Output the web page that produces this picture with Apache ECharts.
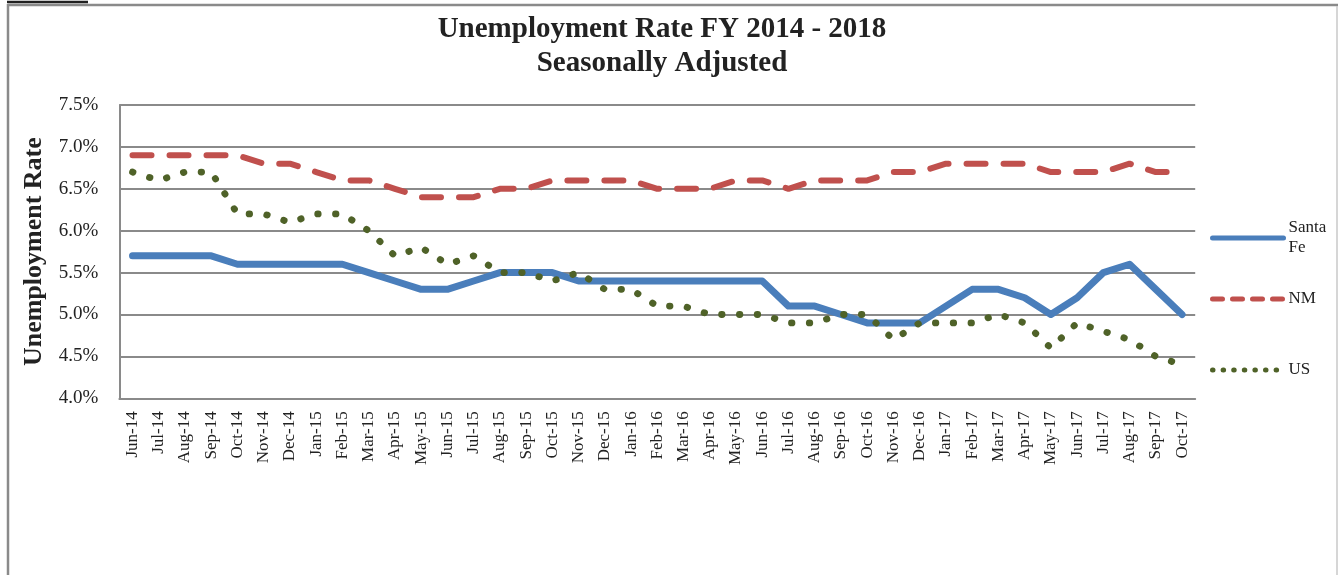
<!DOCTYPE html>
<html>
<head>
<meta charset="utf-8">
<script src="https://cdn.jsdelivr.net/npm/echarts@6/dist/echarts.min.js"></script>
<style>
  html, body { margin: 0; padding: 0; background: #ffffff; }
  #chart { width: 1338px; height: 575px; }
</style>
</head>
<body>
<div id="chart"></div>
<script>
// Monthly unemployment rates (%), Jun-14 .. Oct-17
const months = [
  'Jun-14','Jul-14','Aug-14','Sep-14','Oct-14','Nov-14','Dec-14',
  'Jan-15','Feb-15','Mar-15','Apr-15','May-15','Jun-15','Jul-15','Aug-15','Sep-15','Oct-15','Nov-15','Dec-15',
  'Jan-16','Feb-16','Mar-16','Apr-16','May-16','Jun-16','Jul-16','Aug-16','Sep-16','Oct-16','Nov-16','Dec-16',
  'Jan-17','Feb-17','Mar-17','Apr-17','May-17','Jun-17','Jul-17','Aug-17','Sep-17','Oct-17'
];
const santaFe = [
  5.7,5.7,5.7,5.7,5.6,5.6,5.6,
  5.6,5.6,5.5,5.4,5.3,5.3,5.4,5.5,5.5,5.5,5.4,5.4,
  5.4,5.4,5.4,5.4,5.4,5.4,5.1,5.1,5.0,4.9,4.9,4.9,
  5.1,5.3,5.3,5.2,5.0,5.2,5.5,5.6,5.3,5.0
];
const newMexico = [
  6.9,6.9,6.9,6.9,6.9,6.8,6.8,
  6.7,6.6,6.6,6.5,6.4,6.4,6.4,6.5,6.5,6.6,6.6,6.6,
  6.6,6.5,6.5,6.5,6.6,6.6,6.5,6.6,6.6,6.6,6.7,6.7,
  6.8,6.8,6.8,6.8,6.7,6.7,6.7,6.8,6.7,6.7
];
const unitedStates = [
  6.7,6.6,6.7,6.7,6.2,6.2,6.1,
  6.2,6.2,6.0,5.7,5.8,5.6,5.7,5.5,5.5,5.4,5.5,5.3,
  5.3,5.1,5.1,5.0,5.0,5.0,4.9,4.9,5.0,5.0,4.7,4.9,
  4.9,4.9,5.0,4.9,4.6,4.9,4.8,4.7,4.5,4.4
];
const yTicks = { min: 4.0, max: 7.5, step: 0.5 };

const SERIF = "'Liberation Serif', 'Times New Roman', serif";
const BLUE = '#4a7ebb', RED = '#c0504d', GREEN = '#4f6228';

const chart = echarts.init(document.getElementById('chart'), null, { renderer: 'canvas' });

// one legend block per series so each entry sits at its own height
function legendFor(name, top, lineStyle, textPad) {
  return {
    data: [name],
    orient: 'vertical',
    left: 1210,
    top: top,
    padding: 0,
    itemWidth: 71,
    itemHeight: 14,
    itemGap: 0,
    selectedMode: false,
    formatter: n => (n === 'Santa Fe' ? 'Santa\nFe' : n),
    textStyle: {
      fontFamily: SERIF, fontSize: 17, color: '#222', lineHeight: 20,
      padding: textPad || 0
    },
    itemStyle: { opacity: 0, borderWidth: 0 },
    lineStyle: lineStyle
  };
}

chart.setOption({
  animation: false,
  backgroundColor: '#ffffff',
  title: {
    text: 'Unemployment Rate FY 2014 - 2018\nSeasonally Adjusted',
    left: 657,
    textAlign: 'center',
    top: 8,
    textStyle: {
      fontFamily: SERIF, fontWeight: 'bold', fontSize: 29, lineHeight: 34, color: '#222'
    }
  },
  grid: { left: 119.4, right: 142.8, top: 105, bottom: 176.7, containLabel: false },
  legend: [
    legendFor('Santa Fe', 208, { width: 5, cap: 'round', type: 'solid' }, [20, 0, 0, 0]),
    legendFor('NM', 289, { width: 5, cap: 'round', type: [10, 10] }),
    legendFor('US', 360, { width: 5, cap: 'round', type: [0.5, 10.1] })
  ],
  xAxis: {
    type: 'category',
    data: months,
    boundaryGap: true,
    axisLine: { show: true, lineStyle: { color: '#8a8a8a', width: 2 } },
    axisTick: { show: false },
    axisLabel: {
      rotate: 90, interval: 0, margin: 13,
      fontFamily: SERIF, fontSize: 17, color: '#222'
    },
    splitLine: { show: false }
  },
  yAxis: {
    type: 'value',
    min: yTicks.min, max: yTicks.max, interval: yTicks.step,
    name: 'Unemployment Rate',
    nameLocation: 'middle',
    nameRotate: 90,
    nameGap: 72,
    nameTextStyle: { fontFamily: SERIF, fontWeight: 'bold', fontSize: 26, color: '#222' },
    axisLine: { show: true, lineStyle: { color: '#8a8a8a', width: 2 } },
    axisTick: { show: false },
    axisLabel: {
      margin: 21, fontFamily: SERIF, fontSize: 19, color: '#222',
      formatter: v => v.toFixed(1) + '%'
    },
    splitLine: { show: true, lineStyle: { color: '#8a8a8a', width: 2 } }
  },
  series: [
    {
      name: 'Santa Fe', type: 'line', data: santaFe, symbol: 'none',
      color: BLUE,
      lineStyle: { color: BLUE, width: 7, cap: 'round', join: 'round' }
    },
    {
      name: 'NM', type: 'line', data: newMexico, symbol: 'none',
      color: RED,
      lineStyle: { color: RED, width: 6, type: [19, 18], cap: 'round', join: 'round' }
    },
    {
      name: 'US', type: 'line', data: unitedStates, symbol: 'none',
      color: GREEN,
      lineStyle: { color: GREEN, width: 6.8, type: [0.5, 17.3], cap: 'round', join: 'round' }
    }
  ],
  graphic: [
    // outer frame of the chart area
    { type: 'line', shape: { x1: 8, y1: 5, x2: 1338, y2: 5 }, style: { stroke: '#8a8a8a', lineWidth: 2.5 }, silent: true },
    { type: 'line', shape: { x1: 8, y1: 4, x2: 8, y2: 575 }, style: { stroke: '#8a8a8a', lineWidth: 2.5 }, silent: true },
    { type: 'line', shape: { x1: 1337, y1: 6, x2: 1337, y2: 575 }, style: { stroke: '#c8c8c8', lineWidth: 1.5 }, silent: true },
    { type: 'line', shape: { x1: 7, y1: 2, x2: 88, y2: 2 }, style: { stroke: '#222222', lineWidth: 2.5 }, silent: true }
  ]
});
</script>
</body>
</html>
